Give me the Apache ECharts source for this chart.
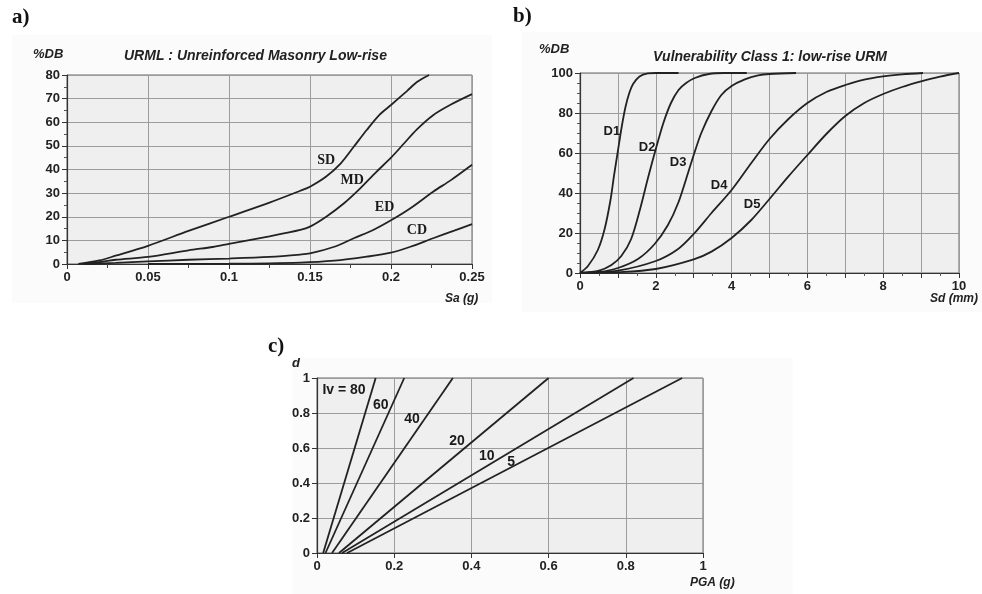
<!DOCTYPE html>
<html><head><meta charset="utf-8">
<script src="https://cdn.jsdelivr.net/npm/echarts@6/dist/echarts.min.js"></script>
<style>html,body{margin:0;padding:0;background:#fff}#c{width:982px;height:594px}</style>
</head><body><div id="c"></div>
<script>
// ---- Panel a: URML fragility (Sa g, %DB) ----
const urmlSD = [[0.007,0],[0.02,1.5],[0.03,3.5],[0.05,7.7],[0.075,14],[0.1,20],[0.125,26],[0.144,31],[0.15,32.7],[0.16,37],[0.169,42.6],[0.177,49.6],[0.185,56.7],[0.193,63.2],[0.2,67.3],[0.21,73.3],[0.216,77],[0.2235,80]];
const urmlMD = [[0.01,0],[0.02,0.8],[0.03,1.8],[0.05,3],[0.075,5.8],[0.09,7.2],[0.1,8.5],[0.125,11.7],[0.144,14.4],[0.15,15.8],[0.16,20],[0.171,25.7],[0.181,32],[0.191,39],[0.2,45],[0.208,51],[0.216,57],[0.226,63],[0.237,67.5],[0.25,71.9]];
const urmlED = [[0.012,0],[0.03,0.5],[0.05,1.1],[0.075,1.8],[0.1,2.3],[0.125,3],[0.144,4],[0.15,4.5],[0.165,7.3],[0.177,10.9],[0.189,14.4],[0.2,18.5],[0.212,23.6],[0.226,30.6],[0.237,35.5],[0.25,42]];
const urmlCD = [[0.05,0],[0.1,0.1],[0.144,0.6],[0.165,1.4],[0.185,3.1],[0.2,4.8],[0.212,7.3],[0.226,10.9],[0.239,14.1],[0.25,16.9]];
const urmlLabels = [["SD",0.160,44],["MD",0.176,35.5],["ED",0.196,24],["CD",0.216,14.4]];

// ---- Panel b: Vulnerability class 1 (Sd mm, %DB) ----
const vcD1 = [[0,0],[0.21,3.5],[0.47,11.5],[0.65,22],[0.8,36],[0.9,49],[1.0,61],[1.1,73],[1.2,83],[1.3,90],[1.4,94.5],[1.57,98.3],[1.79,99.8],[2.0,100],[2.6,100]];
const vcD2 = [[0,0],[0.5,1.2],[0.83,4],[1.09,8.5],[1.35,17],[1.6,33],[1.8,48],[2.0,62],[2.2,75],[2.4,85],[2.6,91.5],[2.8,95],[3.03,97.5],[3.4,99.5],[3.8,100],[4.4,100]];
const vcD3 = [[0,0],[0.5,0.5],[1.0,2.5],[1.53,7],[1.97,14.5],[2.32,24],[2.59,35],[2.85,50],[3.0,59],[3.2,70],[3.47,81],[3.73,89],[4.0,93.5],[4.35,96.8],[4.7,98.8],[5.0,99.5],[5.7,100]];
const vcD4 = [[0,0],[1.0,1.2],[2.0,6],[2.59,12],[3.0,19.5],[3.47,30],[4.0,41.5],[4.52,55],[5.0,67],[5.5,77],[6.0,85],[6.5,90.5],[7.0,94],[7.5,96.7],[8.0,98.3],[8.5,99.3],[9.05,100]];
const vcD5 = [[0,0],[1.0,0.4],[2.0,2],[3.0,6.8],[3.47,10.7],[4.0,17.5],[4.52,26.5],[5.0,37],[5.5,48.3],[6.0,59],[6.5,69.5],[7.0,78.5],[7.5,85],[8.0,89.5],[8.5,93],[9.0,95.8],[9.5,98.2],[10,100]];
const vcLabels = [["D1",0.84,71],["D2",1.77,63],["D3",2.59,55.5],["D4",3.67,44],["D5",4.54,34.5]];

// ---- Panel c: d vs PGA for Iv values ----
const ivValues = [80,60,40,20,10,5];
const ivStartPGA = [0.016,0.022,0.039,0.057,0.065,0.078];
const ivEndPGA = [0.152,0.226,0.352,0.6,0.82,0.946];
const ivLabels = [["Iv = 80",0.014,0.93,"left"],["60",0.165,0.845,"center"],["40",0.246,0.765,"center"],["20",0.363,0.64,"center"],["10",0.44,0.555,"center"],["5",0.503,0.52,"center"]];

const fmt = v => String(+v.toFixed(3));
const lblFont = {fontFamily:'Liberation Sans, Arial, sans-serif', fontWeight:'bold', fontSize:13, color:'#222'};
function axisCommon(extra){
  return Object.assign({
    type:'value',
    axisLine:{show:true, onZero:false, lineStyle:{color:'#333', width:1.2}},
    axisTick:{show:true, length:5, lineStyle:{color:'#333'}},
    minorTick:{show:true, length:3, lineStyle:{color:'#555'}},
    splitLine:{show:true, lineStyle:{color:'#9c9c9c', width:1}},
    axisLabel:Object.assign({margin:7, formatter:fmt}, lblFont)
  }, extra);
}
const lineStyle = {color:'#222', width:1.8};
function curve(data, xi, yi){
  return {type:'line', xAxisIndex:xi, yAxisIndex:yi, data:data, showSymbol:false, symbol:'none',
    smooth:0.3, lineStyle:lineStyle, silent:true, z:3};
}
function labels(arr, xi, yi, font){
  return {type:'scatter', xAxisIndex:xi, yAxisIndex:yi, symbolSize:0, silent:true, z:5,
    itemStyle:{opacity:1},
    data: arr.map(a => ({name:a[0], value:[a[1],a[2]], label:{align:a[3]||'center'}})),
    label:Object.assign({show:true, position:'inside', formatter:p=>p.name, verticalAlign:'middle', opacity:1, textBorderWidth:0}, font)};
}

const series = [
  curve(urmlSD,0,0), curve(urmlMD,0,0), curve(urmlED,0,0), curve(urmlCD,0,0),
  labels(urmlLabels,0,0,{fontFamily:'Liberation Serif, Times New Roman, serif', fontWeight:'bold', fontSize:14, color:'#1a1a1a'}),
  curve(vcD1,1,1), curve(vcD2,1,1), curve(vcD3,1,1), curve(vcD4,1,1), curve(vcD5,1,1),
  labels(vcLabels,1,1,{fontFamily:'Liberation Sans, Arial, sans-serif', fontWeight:'bold', fontSize:13, color:'#1a1a1a'})
];
ivValues.forEach((iv,i)=>{
  series.push({type:'line', xAxisIndex:2, yAxisIndex:2, showSymbol:false, symbol:'none', silent:true,
    data:[[ivStartPGA[i],0],[ivEndPGA[i],1]], lineStyle:lineStyle, z:3});
});
series.push(labels(ivLabels,2,2,{fontFamily:'Liberation Sans, Arial, sans-serif', fontWeight:'bold', fontSize:14, color:'#1a1a1a'}));

const option = {
  animation:false,
  backgroundColor:'#ffffff',
  grid:[
    {left:67, top:75, width:405, height:189, show:true, backgroundColor:'#efefef', borderColor:'#666', borderWidth:1},
    {left:580, top:73, width:379, height:200, show:true, backgroundColor:'#efefef', borderColor:'#666', borderWidth:1},
    {left:317, top:378, width:386, height:175, show:true, backgroundColor:'#efefef', borderColor:'#666', borderWidth:1}
  ],
  xAxis:[
    axisCommon({gridIndex:0, min:0, max:0.25, interval:0.05, minorTick:{show:true,splitNumber:2,length:4,lineStyle:{color:'#444'}}}),
    axisCommon({gridIndex:1, min:0, max:10, interval:1, minorTick:{show:true,splitNumber:2,length:3,lineStyle:{color:'#555'}},
      axisLabel:Object.assign({margin:7, formatter:v=> (v%2===0? String(v):'')}, lblFont)}),
    axisCommon({gridIndex:2, min:0, max:1, interval:0.2, minorTick:{show:false}})
  ],
  yAxis:[
    axisCommon({gridIndex:0, min:0, max:80, interval:10, minorTick:{show:true,splitNumber:2,length:3,lineStyle:{color:'#555'}}}),
    axisCommon({gridIndex:1, min:0, max:100, interval:20, minorTick:{show:true,splitNumber:4,length:3,lineStyle:{color:'#555'}}}),
    axisCommon({gridIndex:2, min:0, max:1, interval:0.2, minorTick:{show:false}})
  ],
  series:series,
  graphic:[
    {type:'rect', shape:{x:12,y:35,width:480,height:268}, style:{fill:'#fbfbfb'}, z:-1, silent:true},
    {type:'rect', shape:{x:522,y:32,width:460,height:280}, style:{fill:'#fbfbfb'}, z:-1, silent:true},
    {type:'rect', shape:{x:293,y:358,width:500,height:236}, style:{fill:'#fbfbfb'}, z:-1, silent:true},
    {type:'text', left:12, top:7, style:{text:'a)', font:'bold 21px "Liberation Serif", serif', fill:'#111'}},
    {type:'text', left:513, top:6, style:{text:'b)', font:'bold 21px "Liberation Serif", serif', fill:'#111'}},
    {type:'text', left:268, top:336, style:{text:'c)', font:'bold 21px "Liberation Serif", serif', fill:'#111'}},
    {type:'text', left:33, top:48, style:{text:'%DB', font:'italic bold 13px "Liberation Sans", Arial, sans-serif', fill:'#222'}},
    {type:'text', left:539, top:43, style:{text:'%DB', font:'italic bold 13px "Liberation Sans", Arial, sans-serif', fill:'#222'}},
    {type:'text', left:124, top:49, style:{text:'URML : Unreinforced Masonry Low-rise', font:'italic bold 14px "Liberation Sans", Arial, sans-serif', fill:'#222'}},
    {type:'text', left:653, top:50, style:{text:'Vulnerability Class 1: low-rise URM', font:'italic bold 14px "Liberation Sans", Arial, sans-serif', fill:'#222'}},
    {type:'text', left:445, top:293, style:{text:'Sa (g)', font:'italic bold 12px "Liberation Sans", Arial, sans-serif', fill:'#222'}},
    {type:'text', left:930, top:293, style:{text:'Sd (mm)', font:'italic bold 12px "Liberation Sans", Arial, sans-serif', fill:'#222'}},
    {type:'text', left:690, top:577, style:{text:'PGA (g)', font:'italic bold 12px "Liberation Sans", Arial, sans-serif', fill:'#222'}},
    {type:'text', left:292, top:357, style:{text:'d', font:'italic bold 13px "Liberation Sans", Arial, sans-serif', fill:'#222'}}
  ]
};
echarts.init(document.getElementById('c')).setOption(option);
</script></body></html>
